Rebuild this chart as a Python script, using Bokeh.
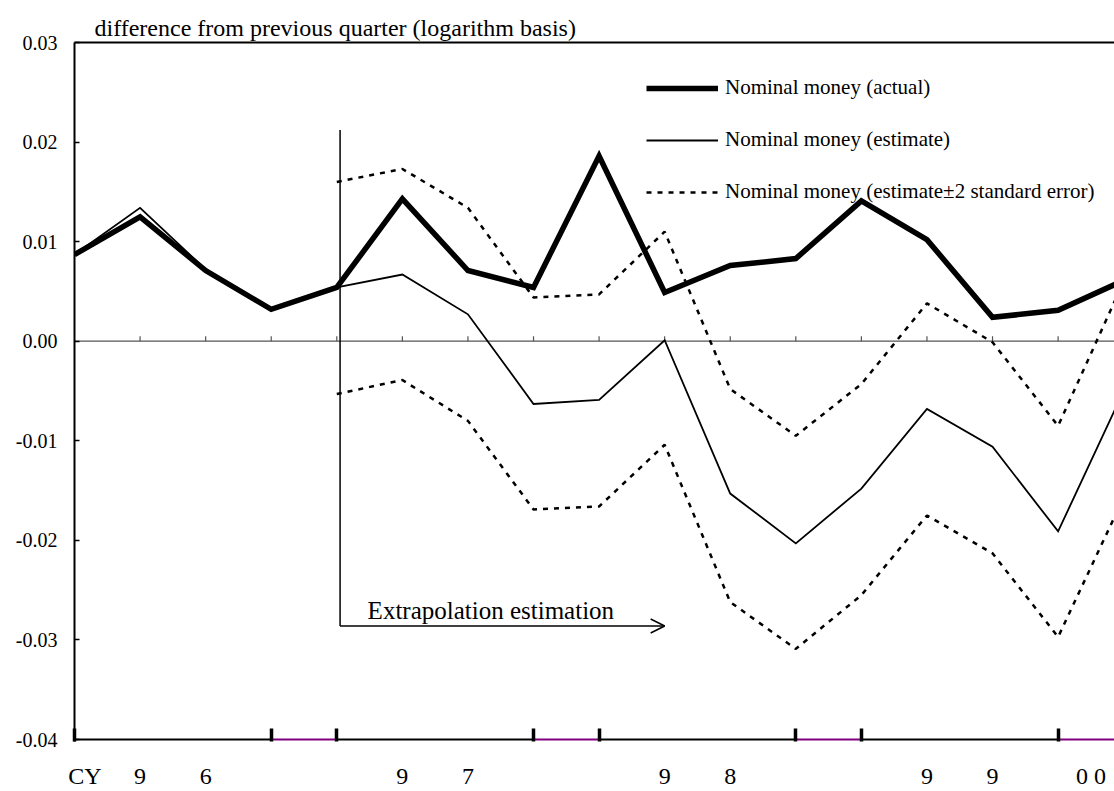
from bokeh.plotting import figure
from bokeh.models import (Range1d, LinearAxis, FixedTicker, PrintfTickFormatter, Legend,
                          LegendItem, Label, Arrow, OpenHead, Span)
from bokeh.embed import file_html
from bokeh.resources import INLINE

# ---------------- data ----------------
quarters = list(range(17))
actual = [0.0087, 0.0125, 0.0071, 0.0032, 0.0054, 0.0143, 0.0071, 0.0054, 0.0186,
          0.0049, 0.0076, 0.0083, 0.0141, 0.0102, 0.0024, 0.0031, 0.0061]
estimate = [0.0087, 0.0134, 0.0072, 0.0032, 0.0054, 0.0067, 0.0027, -0.0063, -0.0059,
            0.0001, -0.0153, -0.0203, -0.0148, -0.0068, -0.0106, -0.0191, -0.0050]
band_quarters = list(range(4, 17))
upper = [0.0160, 0.0173, 0.0134, 0.0044, 0.0047, 0.0110, -0.0048, -0.0095, -0.0043,
         0.0038, -0.0001, -0.0085, 0.0060]
lower = [-0.0053, -0.0039, -0.0080, -0.0169, -0.0166, -0.0104, -0.0262, -0.0309, -0.0255,
         -0.0175, -0.0213, -0.0297, -0.0157]

y_ticks = [-0.04, -0.03, -0.02, -0.01, 0.0, 0.01, 0.02, 0.03]
bottom_label_pos = [0.16, 1, 2, 5, 6, 9, 10, 13, 14, 15.5]
bottom_labels = ["CY", "9", "6", "9", "7", "9", "8", "9", "9", "0 0"]
boundary_ticks = [0, 3, 4, 7, 8, 11, 12, 15]
axis_seg_start = [0, 3, 4, 7, 8, 11, 12, 15]
axis_seg_end = [3, 4, 7, 8, 11, 12, 15, 16]
axis_seg_color = ["black", "purple", "black", "purple", "black", "purple", "black", "purple"]
zero_tick_pos = list(range(1, 17))

extrap_start = 4.05
extrap_end = 9.0
extrap_top = 0.0212
extrap_level = -0.0286

FONT = "Liberation Serif"

p = figure(width=1114, height=791,
           x_range=Range1d(0, 15.86), y_range=Range1d(-0.0402, 0.03),
           output_backend="svg", toolbar_location=None,
           x_axis_location=None, y_axis_location=None,
           min_border_left=74, min_border_right=0, min_border_top=42, min_border_bottom=47)
p.outline_line_color = None
p.xgrid.visible = False
p.ygrid.visible = False
p.background_fill_color = "white"

# title
p.title.text = "difference from previous quarter (logarithm basis)"
p.title.align = "left"
p.title.offset = 20
p.title.standoff = 3
p.title.text_font = FONT
p.title.text_font_size = "24px"
p.title.text_font_style = "normal"
p.title.text_color = "black"

# left axis
yaxis = LinearAxis(ticker=FixedTicker(ticks=y_ticks, minor_ticks=[]),
                   formatter=PrintfTickFormatter(format="%.2f"))
yaxis.axis_line_width = 2
yaxis.axis_line_color = "black"
yaxis.major_tick_in = 5
yaxis.major_tick_out = 0
yaxis.major_tick_line_width = 1.5
yaxis.minor_tick_line_color = None
yaxis.major_label_standoff = 17
yaxis.major_label_text_font = FONT
yaxis.major_label_text_font_size = "20px"
yaxis.major_label_text_color = "black"
p.add_layout(yaxis, "left")

# top border
top_axis = LinearAxis(ticker=FixedTicker(ticks=[], minor_ticks=[]))
top_axis.axis_line_width = 2
top_axis.axis_line_color = "black"
top_axis.major_tick_line_color = None
top_axis.minor_tick_line_color = None
top_axis.major_label_text_font_size = "0px"
top_axis.major_label_standoff = 0
p.add_layout(top_axis, "above")

# bottom axis: thick boundary ticks + year digit labels
bot_axis = LinearAxis(ticker=FixedTicker(ticks=bottom_label_pos, minor_ticks=boundary_ticks))
bot_axis.major_label_overrides = {pos: lab for pos, lab in zip(bottom_label_pos, bottom_labels)}
bot_axis.axis_line_color = None
bot_axis.major_tick_line_color = None
bot_axis.minor_tick_in = 13
bot_axis.minor_tick_out = 0
bot_axis.minor_tick_line_width = 3.5
bot_axis.minor_tick_line_color = "black"
bot_axis.major_label_text_font = FONT
bot_axis.major_label_text_font_size = "24px"
bot_axis.major_label_text_color = "black"
bot_axis.major_label_standoff = 15
p.add_layout(bot_axis, "below")

# bottom line (black / purple segments)
p.segment(x0=axis_seg_start, y0=[-0.04] * len(axis_seg_start),
          x1=axis_seg_end, y1=[-0.04] * len(axis_seg_end),
          line_color=axis_seg_color, line_width=2)

# zero line and its small ticks
p.add_layout(Span(location=0, dimension="width", line_color="#555555", line_width=1.3,
                  level="underlay"))
p.segment(x0=zero_tick_pos, y0=[0] * len(zero_tick_pos), x1=zero_tick_pos,
          y1=[0.0005] * len(zero_tick_pos), line_color="#555555", line_width=1.2)

# series
r_up = p.line(band_quarters, upper, line_color="black", line_width=2.5, line_dash="5 6")
p.line(band_quarters, lower, line_color="black", line_width=2.5, line_dash="5 6")
r_est = p.line(quarters, estimate, line_color="black", line_width=1.8, line_join="miter")
r_act = p.line(quarters, actual, line_color="black", line_width=5.5, line_join="miter")

legend = Legend(items=[LegendItem(label="Nominal money (actual)", renderers=[r_act]),
                       LegendItem(label="Nominal money (estimate)", renderers=[r_est]),
                       LegendItem(label="Nominal money (estimate\u00b12 standard error)",
                                  renderers=[r_up])],
                location=(572, 537), glyph_width=72, glyph_height=20, label_height=20,
                spacing=27, padding=0, margin=0, border_line_color=None,
                background_fill_alpha=0, label_text_font=FONT,
                label_text_font_size="21px", label_standoff=7, label_text_color="black")
p.add_layout(legend)

# extrapolation bracket
p.add_layout(Arrow(end=None, x_start=extrap_start, y_start=extrap_top,
                   x_end=extrap_start, y_end=extrap_level, line_width=1.5, line_color="black"))
p.add_layout(Arrow(end=OpenHead(size=14, line_width=1.5, line_color="black"),
                   x_start=extrap_start, y_start=extrap_level,
                   x_end=extrap_end, y_end=extrap_level, line_width=1.5, line_color="black"))
p.add_layout(Label(x=4.47, y=-0.0270, text="Extrapolation estimation", text_font=FONT,
                   text_font_size="25px", text_baseline="alphabetic", text_align="left",
                   text_color="black"))

open("out.html", "w").write(file_html(p, INLINE))
